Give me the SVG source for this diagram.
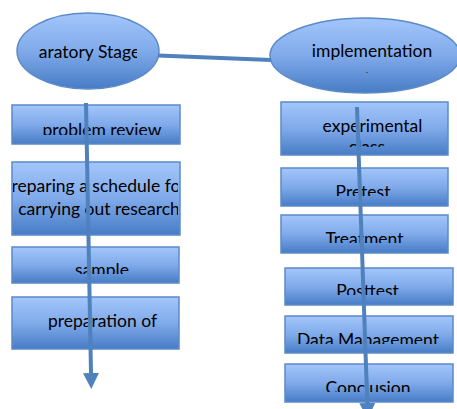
<svg xmlns="http://www.w3.org/2000/svg" width="457" height="409" viewBox="0 0 457 409">
<defs>
<linearGradient id="g" x1="0" y1="0" x2="0" y2="1">
<stop offset="0" stop-color="#a3c6fb"/>
<stop offset="0.5" stop-color="#80aaea"/>
<stop offset="1" stop-color="#477cc6"/>
</linearGradient>
<clipPath id="cE1"><rect x="38" y="20" width="99" height="60"/></clipPath>
<clipPath id="cE2"><rect x="298" y="25" width="135" height="55"/></clipPath>
<clipPath id="c1"><rect x="13" y="106" width="166" height="29"/></clipPath>
<clipPath id="c2"><rect x="13" y="163" width="165" height="62"/></clipPath>
<clipPath id="c3"><rect x="13" y="248" width="166" height="26"/></clipPath>
<clipPath id="c4"><rect x="13" y="298" width="166" height="41"/></clipPath>
<clipPath id="c5"><rect x="282" y="103" width="166" height="44"/></clipPath>
<clipPath id="c6"><rect x="282" y="169" width="166" height="27"/></clipPath>
<clipPath id="c7"><rect x="282" y="216" width="166" height="27"/></clipPath>
<clipPath id="c8"><rect x="286" y="269" width="166" height="26"/></clipPath>
<clipPath id="c9"><rect x="286" y="317" width="166" height="27"/></clipPath>
<clipPath id="c10"><rect x="286" y="365" width="166" height="27"/></clipPath>
<marker id="ah" markerWidth="4" markerHeight="4" refX="0" refY="2" orient="auto" markerUnits="strokeWidth">
<path d="M0,0 L4,2 L0,4 Z" fill="#4f81bd"/>
</marker>
</defs>
<style>
.shape{fill:url(#g);stroke:#5b8bc8;stroke-width:1.5}
.t{font-family:Lato,"Open Sans","Liberation Sans",sans-serif;font-size:17.5px;fill:#000;text-anchor:middle}
.line{stroke:#4f81bd;stroke-width:4;fill:none}
</style>

<g id="preparatory-stage">
<ellipse class="shape" cx="88" cy="51" rx="71" ry="38"/>
<text class="t" x="89.5" y="58" clip-path="url(#cE1)">aratory Stage</text>
</g>
<g id="implementation">
<ellipse class="shape" cx="365" cy="55.5" rx="95" ry="37.5"/>
<text class="t" x="372" y="57" clip-path="url(#cE2)">implementation</text>
<text class="t" x="367" y="73" style="font-size:8px">.</text>
</g>

<g id="problem-review">
<rect class="shape" x="12" y="105" width="168" height="39"/>
<text class="t" x="102" y="135.5" clip-path="url(#c1)">problem review</text>
</g>
<g id="schedule">
<rect class="shape" x="12" y="162" width="168" height="73"/>
<text class="t" clip-path="url(#c2)"><tspan x="96" y="192">reparing a schedule fo</tspan><tspan x="99" y="215">carrying out research</tspan></text>
</g>
<g id="sample">
<rect class="shape" x="12" y="247" width="167" height="36"/>
<text class="t" x="102" y="276" clip-path="url(#c3)">sample</text>
</g>
<g id="preparation">
<rect class="shape" x="12" y="297" width="167" height="52"/>
<text class="t" x="102.5" y="327" clip-path="url(#c4)">preparation of</text>
</g>

<g id="experimental-class">
<rect class="shape" x="281" y="102" width="167" height="53"/>
<text class="t" clip-path="url(#c5)"><tspan x="372.5" y="132">experimental</tspan><tspan x="367" y="153">class</tspan></text>
</g>
<g id="pretest">
<rect class="shape" x="281" y="168" width="167" height="38"/>
<text class="t" x="363" y="197.5" clip-path="url(#c6)">Pretest</text>
</g>
<g id="treatment">
<rect class="shape" x="281" y="215" width="167" height="38"/>
<text class="t" x="364.5" y="244.5" clip-path="url(#c7)">Treatment</text>
</g>
<g id="posttest">
<rect class="shape" x="285" y="268" width="168" height="37"/>
<text class="t" x="367.5" y="297" clip-path="url(#c8)">Posttest</text>
</g>
<g id="data-management">
<rect class="shape" x="285" y="316" width="168" height="37"/>
<text class="t" x="368" y="345.5" clip-path="url(#c9)">Data Management</text>
</g>
<g id="conclusion">
<rect class="shape" x="285" y="364" width="168" height="38"/>
<text class="t" x="368" y="393.5" clip-path="url(#c10)">Conclusion</text>
</g>

<g id="connectors">
<line class="line" x1="158" y1="55.5" x2="271" y2="60"/>
<line class="line" x1="86" y1="103" x2="91" y2="373" marker-end="url(#ah)"/>
<line class="line" x1="357" y1="107" x2="367.3" y2="403" marker-end="url(#ah)"/>
</g>
</svg>
